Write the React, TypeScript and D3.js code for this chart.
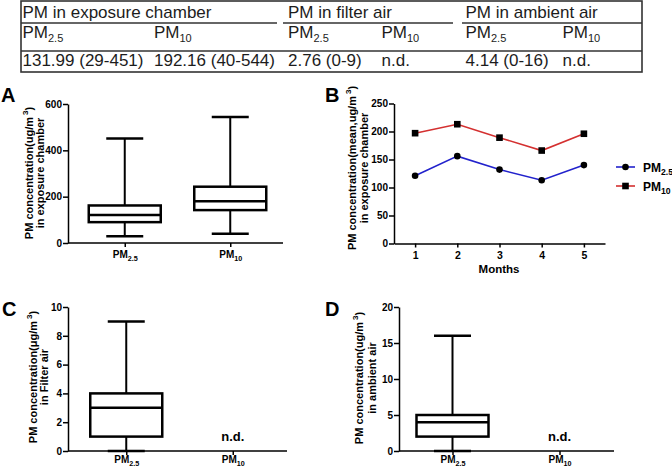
import React, { useEffect, useRef } from "react";
import * as d3 from "d3";

// table at the top
const tableGroups = ["PM in exposure chamber", "PM in filter air", "PM in ambient air"];
const tableSubs = ["2.5", "10", "2.5", "10", "2.5", "10"];
const tableValues = ["131.99 (29-451)", "192.16 (40-544)", "2.76 (0-9)", "n.d.", "4.14 (0-16)", "n.d."];

// box plots (A, C, D)
const boxCats = ["2.5", "10"];
const chamberBox = [
  { min: 29, q1: 90, median: 121, q3: 162, max: 451 },
  { min: 40, q1: 142, median: 180, q3: 243, max: 544 },
];
const filterBox = [{ min: 0, q1: 1, median: 3, q3: 4, max: 9 }, null];
const ambientBox = [{ min: 0, q1: 2, median: 4, q3: 5, max: 16 }, null];

const chamberTicks = [0, 200, 400, 600];
const filterTicks = [0, 2, 4, 6, 8, 10];
const ambientTicks = [0, 5, 10, 15, 20];

// monthly means (B)
const months = [1, 2, 3, 4, 5];
const pm25Monthly = [121, 156, 132, 113, 140];
const pm10Monthly = [197, 213, 189, 166, 196];
const monthlyTicks = [0, 50, 100, 150, 200, 250];

const FONT = "Arial, 'Liberation Sans', Helvetica, sans-serif";

const App = () => {
  const svgRef = useRef<SVGSVGElement>(null);

  useEffect(() => {
    const svg = d3.select(svgRef.current);
    svg.selectAll("*").remove();
    svg.style("font-family", FONT);

    const pm = (sel: any, sub: string, size: number) => {
      sel.append("tspan").text("PM");
      sel.append("tspan").attr("font-size", size * 0.72).attr("dy", size * 0.3).text(sub);
    };

    // ---- table ----
    const tbl = svg.append("g").attr("fill", "#1c1c1c");
    const colX = [22.5, 154, 288, 381.5, 465.5, 562.5];
    const groupX = [22.5, 288, 465.5];
    const segs = [[21, 277], [283, 453], [462, 642]];
    tbl.append("rect")
      .attr("x", 21).attr("y", 1).attr("width", 621).attr("height", 71)
      .attr("fill", "none").attr("stroke", "#333").attr("stroke-width", 1.6);
    segs.forEach(s => {
      tbl.append("line").attr("x1", s[0]).attr("x2", s[1]).attr("y1", 23).attr("y2", 23)
        .attr("stroke", "#333").attr("stroke-width", 1.4);
    });
    tbl.append("line").attr("x1", 21).attr("x2", 642).attr("y1", 51).attr("y2", 51)
      .attr("stroke", "#333").attr("stroke-width", 1.4);
    tableGroups.forEach((g, i) => {
      tbl.append("text").attr("x", groupX[i]).attr("y", 17.5).attr("font-size", 17).text(g);
    });
    tableSubs.forEach((s, i) => {
      const t = tbl.append("text").attr("x", colX[i]).attr("y", 38).attr("font-size", 17);
      t.append("tspan").text("PM");
      t.append("tspan").attr("font-size", 11).attr("dy", 4).text(s);
    });
    tableValues.forEach((v, i) => {
      tbl.append("text").attr("x", colX[i]).attr("y", 66).attr("font-size", 17).text(v);
    });

    // ---- helpers ----
    const yTitle = (x1: number, x2: number, cy: number, pre: string, line2: string) => {
      const t1 = svg.append("text")
        .attr("transform", `translate(${x1},${cy}) rotate(-90)`)
        .attr("text-anchor", "middle").attr("font-size", 11).attr("font-weight", "bold");
      t1.append("tspan").text(pre);
      t1.append("tspan").attr("font-size", 8).attr("dy", -5).attr("dx", 2).text("3");
      t1.append("tspan").attr("dy", 5).text(")");
      svg.append("text")
        .attr("transform", `translate(${x2},${cy}) rotate(-90)`)
        .attr("text-anchor", "middle").attr("font-size", 11).attr("font-weight", "bold")
        .text(line2);
    };

    const letter = (x: number, y: number, s: string) => {
      svg.append("text").attr("x", x).attr("y", y).attr("font-size", 20)
        .attr("font-weight", "bold").text(s);
    };

    const boxPanel = (opt: any) => {
      const g = svg.append("g");
      const y = d3.scaleLinear().domain([0, opt.max]).range([opt.bottom, opt.top]);
      const x = d3.scalePoint().domain(boxCats).range(opt.xRange).padding(0.5);

      g.append("g")
        .attr("transform", `translate(${opt.left},0)`)
        .call(d3.axisLeft(y).tickValues(opt.ticks).tickSize(5).tickSizeOuter(0).tickPadding(1))
        .call(gg => gg.selectAll("text").attr("font-size", 10).attr("font-weight", "bold").attr("fill", "#000"))
        .call(gg => gg.selectAll("line,path").attr("stroke", "#000").attr("stroke-width", 1.5));

      const xa = g.append("g")
        .attr("transform", `translate(0,${opt.bottom})`)
        .call(d3.axisBottom(x).tickSize(4).tickPadding(opt.pad).tickFormat(() => ""))
        .call(gg => gg.select(".domain").remove())
        .call(gg => gg.selectAll("line").attr("stroke", "#000").attr("stroke-width", 1.5));
      xa.append("line").attr("x1", opt.left).attr("x2", opt.right)
        .attr("stroke", "#000").attr("stroke-width", 1.5);
      xa.selectAll(".tick text").each(function (d: any) {
        const t = d3.select(this).attr("font-size", 10).attr("font-weight", "bold").attr("fill", "#000");
        pm(t, d, 10);
      });

      const bw = 72, cw = 37;
      opt.data.forEach((b: any, i: number) => {
        const cx = x(boxCats[i]) as number;
        if (!b) {
          g.append("text").attr("x", cx).attr("y", y(0) - 10).attr("text-anchor", "middle")
            .attr("font-size", 13).attr("font-weight", "bold").text("n.d.");
          return;
        }
        const bg = g.append("g").attr("stroke", "#000").attr("fill", "none");
        bg.append("line").attr("x1", cx).attr("x2", cx).attr("y1", y(b.max)).attr("y2", y(b.q3)).attr("stroke-width", 2);
        bg.append("line").attr("x1", cx).attr("x2", cx).attr("y1", y(b.q1)).attr("y2", y(b.min)).attr("stroke-width", 2);
        bg.append("line").attr("x1", cx - cw / 2).attr("x2", cx + cw / 2)
          .attr("y1", y(b.max)).attr("y2", y(b.max)).attr("stroke-width", 2.5);
        bg.append("line").attr("x1", cx - cw / 2).attr("x2", cx + cw / 2)
          .attr("y1", y(b.min)).attr("y2", y(b.min)).attr("stroke-width", 2.5);
        bg.append("rect").attr("x", cx - bw / 2).attr("width", bw)
          .attr("y", y(b.q3)).attr("height", y(b.q1) - y(b.q3)).attr("stroke-width", 2.5);
        bg.append("line").attr("x1", cx - bw / 2).attr("x2", cx + bw / 2)
          .attr("y1", y(b.median)).attr("y2", y(b.median)).attr("stroke-width", 2.5);
      });
    };

    // ---- A ----
    letter(1, 102, "A");
    boxPanel({ left: 68, right: 283, top: 104, bottom: 243, max: 600, ticks: chamberTicks, xRange: [72, 283], data: chamberBox, pad: 4 });
    yTitle(33, 44, 173, "PM concentration(ug/m", "in exposure chamber");

    // ---- C ----
    letter(2, 316, "C");
    boxPanel({ left: 68, right: 287, top: 307, bottom: 451, max: 10, ticks: filterTicks, xRange: [73, 286], data: filterBox, pad: 1 });
    yTitle(36.5, 48, 377, "PM concentration(\u03bcg/m", "in Filter air");

    // ---- D ----
    letter(325, 316, "D");
    boxPanel({ left: 399, right: 614, top: 307, bottom: 451, max: 20, ticks: ambientTicks, xRange: [399, 613], data: ambientBox, pad: 1 });
    yTitle(363, 376, 378, "PM concentration(ug/m", "in ambient air");

    // ---- B ----
    letter(325, 102, "B");
    const bx = d3.scaleLinear().domain([0.5, 5.5]).range([394, 605]);
    const by = d3.scaleLinear().domain([0, 250]).range([243.5, 103.5]);
    const gb = svg.append("g");
    gb.append("g")
      .attr("transform", "translate(394,0)")
      .call(d3.axisLeft(by).tickValues(monthlyTicks).tickSize(5).tickSizeOuter(0).tickPadding(1))
      .call(gg => gg.selectAll("text").attr("font-size", 10).attr("font-weight", "bold").attr("fill", "#000"))
      .call(gg => gg.selectAll("line,path").attr("stroke", "#000").attr("stroke-width", 1.5));
    gb.append("g")
      .attr("transform", "translate(0,243.5)")
      .call(d3.axisBottom(bx).tickValues(months).tickSize(4).tickSizeOuter(0).tickPadding(4).tickFormat(d3.format("d")))
      .call(gg => gg.selectAll("text").attr("font-size", 10.5).attr("font-weight", "bold").attr("fill", "#000"))
      .call(gg => gg.selectAll("line,path").attr("stroke", "#000").attr("stroke-width", 1.5));
    gb.append("text").attr("x", 499).attr("y", 273).attr("text-anchor", "middle")
      .attr("font-size", 11.5).attr("font-weight", "bold").text("Months");

    const line = d3.line<number>().x((d, i) => bx(months[i])).y(d => by(d));
    const series = [
      { name: "2.5", values: pm25Monthly, color: "#2222cc", shape: "circle" },
      { name: "10", values: pm10Monthly, color: "#d43030", shape: "square" },
    ];
    series.forEach((s, si) => {
      gb.append("path").datum(s.values).attr("d", line).attr("fill", "none")
        .attr("stroke", s.color).attr("stroke-width", 1.6);
      s.values.forEach((v, i) => {
        if (s.shape === "circle") {
          gb.append("circle").attr("cx", bx(months[i])).attr("cy", by(v)).attr("r", 3.3).attr("fill", "#000");
        } else {
          gb.append("rect").attr("x", bx(months[i]) - 3.3).attr("y", by(v) - 3.3)
            .attr("width", 6.6).attr("height", 6.6).attr("fill", "#000");
        }
      });
      // legend
      const ly = 167 + si * 19;
      gb.append("line").attr("x1", 616).attr("x2", 635).attr("y1", ly).attr("y2", ly)
        .attr("stroke", s.color).attr("stroke-width", 1.6);
      if (s.shape === "circle") {
        gb.append("circle").attr("cx", 625.5).attr("cy", ly).attr("r", 3.3).attr("fill", "#000");
      } else {
        gb.append("rect").attr("x", 622.2).attr("y", ly - 3.3).attr("width", 6.6).attr("height", 6.6).attr("fill", "#000");
      }
      const lt = gb.append("text").attr("x", 643).attr("y", ly + 4.5)
        .attr("font-size", 12).attr("font-weight", "bold");
      pm(lt, s.name, 12);
    });
    yTitle(356, 367.5, 168, "PM concentration(mean,ug/m", "in exposure chamber");
  }, []);

  return (
    <svg
      ref={svgRef}
      width={672}
      height={468}
      style={{ position: "absolute", left: 0, top: 0, background: "#fff" }}
    />
  );
};

export default App;
